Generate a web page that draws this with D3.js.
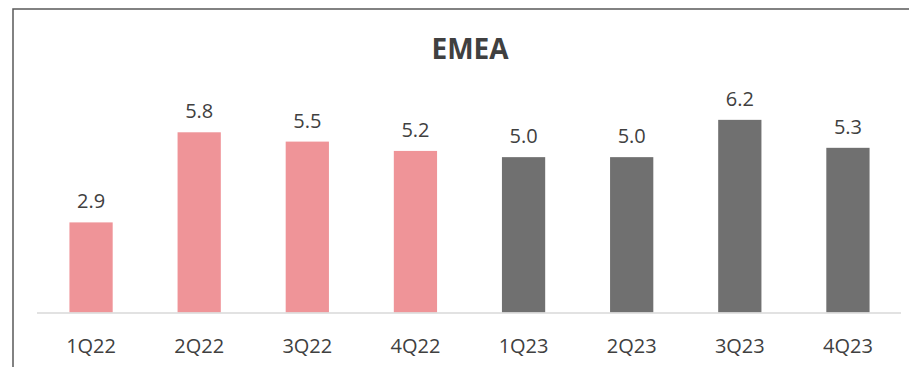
<!DOCTYPE html>
<html>
<head>
<meta charset="utf-8">
<script src="https://cdn.jsdelivr.net/npm/d3@7/dist/d3.min.js"></script>
<style>
  html, body { margin: 0; padding: 0; background: #fff; }
  svg { display: block; }
  text { font-family: "Open Sans", "Noto Sans", sans-serif; fill: #404040; }
</style>
</head>
<body>
<svg id="chart" width="909" height="367"></svg>
<script>
// Quarterly EMEA values
const quarters = ["1Q22", "2Q22", "3Q22", "4Q22", "1Q23", "2Q23", "3Q23", "4Q23"];
const values = [2.9, 5.8, 5.5, 5.2, 5.0, 5.0, 6.2, 5.3];
const years = ["2022", "2022", "2022", "2022", "2023", "2023", "2023", "2023"];
const chartTitle = "EMEA";

const W = 909, H = 367;
const svg = d3.select("#chart");

// Frame: top and left edges of the chart box
svg.append("path")
  .attr("d", `M13,${H} L13,9 L${W},9`)
  .attr("fill", "none")
  .attr("stroke", "#5a5a5a")
  .attr("stroke-width", 1.5);

const x = d3.scaleBand()
  .domain(quarters)
  .range([37, 902])
  .paddingInner(0.6)
  .paddingOuter(0.3);

const y = d3.scaleLinear()
  .domain([0, 7])
  .range([312.5, 95]);

const color = d3.scaleOrdinal()
  .domain(["2022", "2023"])
  .range(["#ef9498", "#707070"]);

// Title
svg.append("text")
  .attr("x", 470)
  .attr("y", 59)
  .attr("text-anchor", "middle")
  .style("font-size", "28px")
  .style("font-weight", "bold")
  .text(chartTitle);

// Bars
svg.append("g")
  .selectAll("rect")
  .data(quarters)
  .join("rect")
  .attr("x", d => x(d))
  .attr("width", x.bandwidth())
  .attr("y", (d, i) => y(values[i]))
  .attr("height", (d, i) => y(0) - y(values[i]))
  .attr("fill", (d, i) => color(years[i]));

// Value labels
svg.append("g")
  .selectAll("text")
  .data(quarters)
  .join("text")
  .attr("x", d => x(d) + x.bandwidth() / 2)
  .attr("y", (d, i) => y(values[i]) - 14)
  .attr("text-anchor", "middle")
  .style("font-size", "20px")
  .text((d, i) => d3.format(".1f")(values[i]));

// Category axis
const axis = svg.append("g")
  .attr("transform", `translate(0,${y(0)})`)
  .call(d3.axisBottom(x).tickSize(0).tickPadding(0));
axis.select(".domain")
  .attr("d", "M37,0.5H901")
  .attr("stroke", "#d9d9d9")
  .attr("stroke-width", 1.5);
axis.selectAll(".tick text")
  .attr("dy", null)
  .attr("y", 40)
  .style("font-size", "20px")
  .style("font-family", "'Open Sans', 'Noto Sans', sans-serif")
  .attr("fill", "#404040");
</script>
</body>
</html>
